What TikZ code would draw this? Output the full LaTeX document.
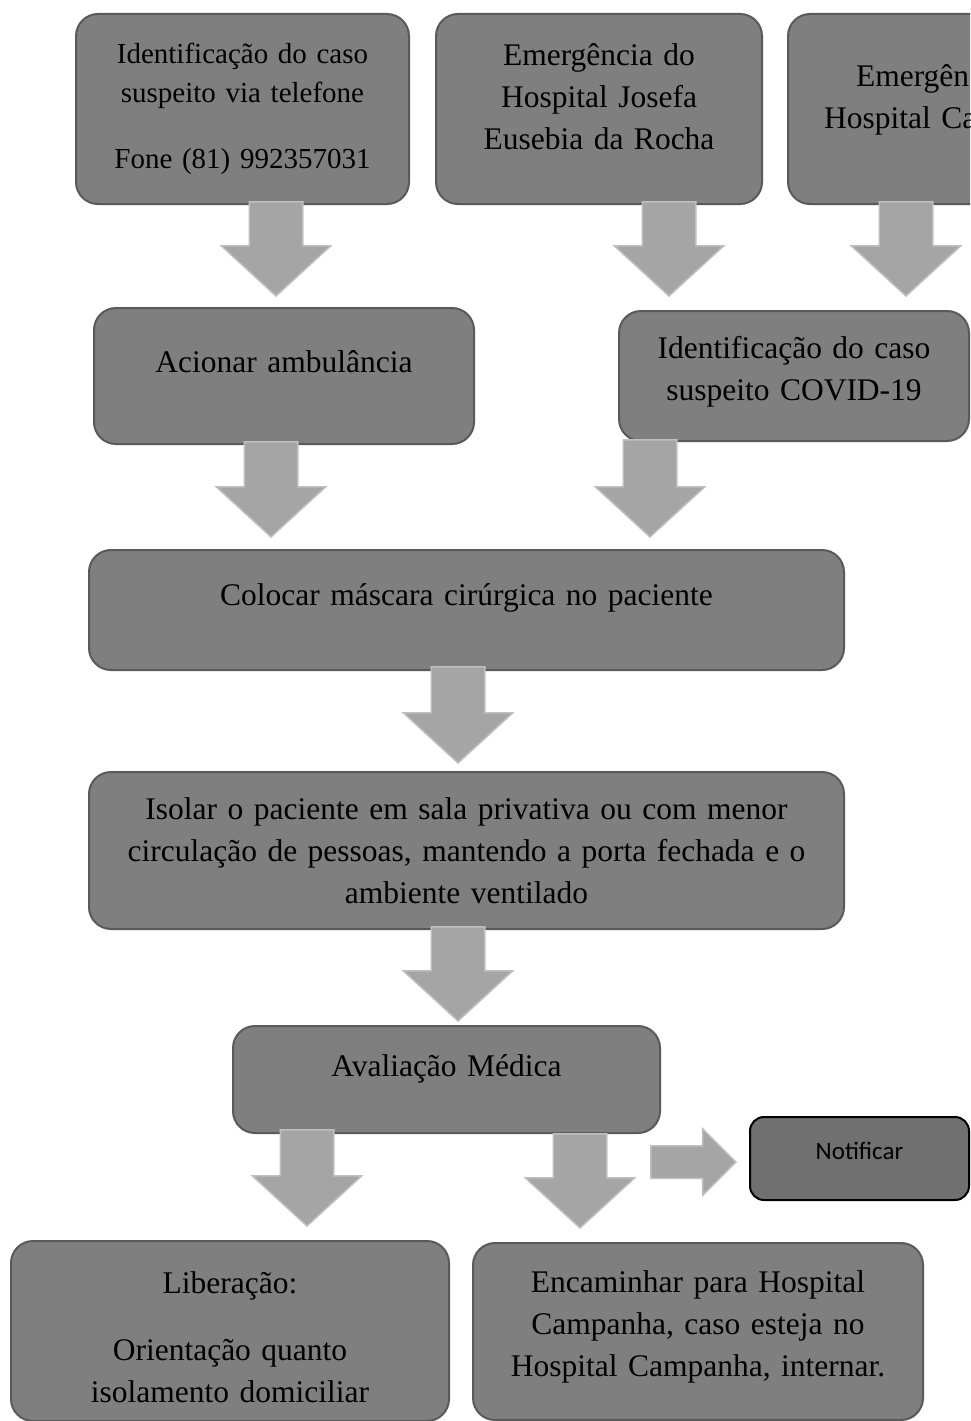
\documentclass[tikz,border=0pt]{standalone}
\usepackage{fontspec}
\setmainfont{Liberation Serif}
\newfontfamily\calibri{Carlito}
\usetikzlibrary{shapes.arrows}
\definecolor{caixacor}{HTML}{7F7F7F}
\definecolor{caixaborda}{HTML}{5A5A5A}
\definecolor{setacor}{HTML}{A5A5A5}
\definecolor{setaborda}{HTML}{BFBFBF}
\definecolor{notifcor}{HTML}{707070}
\tikzset{
	caixa/.style={draw=caixaborda, fill=caixacor, line width=2pt, rounded corners=22pt,
		align=center, inner sep=5pt, anchor=north west, text height=21pt,
		font=\fontsize{31.5}{42}\selectfont}, % Caixas do fluxo
	notif/.style={draw=black, fill=notifcor, line width=2pt, rounded corners=14pt,
		inner sep=5pt, anchor=north west, text height=16pt, text depth=14pt,
		font=\calibri\fontsize{25}{30}\selectfont}, % Caixa lateral
	seta/.style={single arrow, draw=setaborda, fill=setacor, line width=1.5pt,
		inner xsep=0pt, anchor=tip}, % Setas em bloco
	setabaixo/.style={seta, rotate=-90, inner ysep=26pt,
		single arrow head extend=28pt, single arrow tip angle=95} % Setas para baixo
}

\begin{document}
\begin{tikzpicture}[x=1pt, y=-1pt]
	\useasboundingbox (0,0) rectangle (970,1421);
	\clip (0,0) rectangle (970,1421);
	% linha de cima
	\node[caixa, minimum width=333pt, minimum height=190pt, text width=313pt, text height=20pt, text depth=111pt,
		font=\fontsize{29}{39}\selectfont] (tel) at (75,13)
		{Identificação do caso\\suspeito via telefone\\[27pt]Fone (81) 992357031};
	\node[caixa, minimum width=326pt, minimum height=190pt, text width=306pt, text depth=108pt] (hjr) at (435,13)
		{Emergência do\\Hospital Josefa\\Eusebia da Rocha};
	\node[caixa, minimum width=326pt, minimum height=190pt, text width=306pt, text depth=67pt] (hca) at (787,13)
		{\makebox[190pt][l]{Emergên}\\\makebox[254pt][l]{Hospital Ca}};
	\node[caixa, minimum width=380pt, minimum height=136pt, text width=360pt, text depth=28pt] (amb) at (93,307)
		{Acionar ambulância};
	\node[caixa, minimum width=350pt, minimum height=130pt, text width=330pt, text depth=56pt] (covid) at (618,310)
		{Identificação do caso\\suspeito COVID-19};
	% meio
	\node[caixa, minimum width=755pt, minimum height=120pt, text width=735pt, text depth=30pt] (masc) at (88,549)
		{Colocar máscara cirúrgica no paciente};
	\node[caixa, minimum width=755pt, minimum height=157pt, text width=735pt, text depth=84pt] (isol) at (88,771)
		{Isolar o paciente em sala privativa ou com menor\\circulação de pessoas, mantendo a porta fechada e o\\ambiente ventilado};
	\node[caixa, minimum width=427pt, minimum height=107pt, text width=407pt, text depth=28pt] (aval) at (232,1025)
		{Avaliação Médica};
	\node[notif, minimum width=219pt, minimum height=83pt] (notifica) at (749,1116) {Notificar};
	% desfechos
	\node[caixa, minimum width=438pt, minimum height=180pt, text width=418pt, text depth=97pt] (lib) at (10,1240)
		{Liberação:\\[25pt]Orientação quanto\\isolamento domiciliar};
	\node[caixa, minimum width=450pt, minimum height=177pt, text width=430pt, text depth=100pt] (enc) at (472,1242)
		{Encaminhar para Hospital\\Campanha, caso esteja no\\Hospital Campanha, internar.};
	% setas
	\node[setabaixo, minimum height=94pt] (s1) at (276,297) {};
	\node[setabaixo, minimum height=94pt] (s2) at (669,297) {};
	\node[setabaixo, minimum height=94pt] (s3) at (906,297) {};
	\node[setabaixo, minimum height=95pt] (s4) at (271,538) {};
	\node[setabaixo, minimum height=97pt] (s5) at (650,538) {};
	\node[setabaixo, minimum height=96pt] (s6) at (458,764) {};
	\node[setabaixo, minimum height=94pt] (s7) at (458,1022) {};
	\node[setabaixo, minimum height=96pt] (s8) at (307,1227) {};
	\node[setabaixo, minimum height=94pt] (s9) at (580,1229) {};
	\node[seta, minimum height=85pt, inner ysep=15.5pt, single arrow head extend=17pt,
		single arrow tip angle=90] (s10) at (737,1162) {};
\end{tikzpicture}
\end{document}
